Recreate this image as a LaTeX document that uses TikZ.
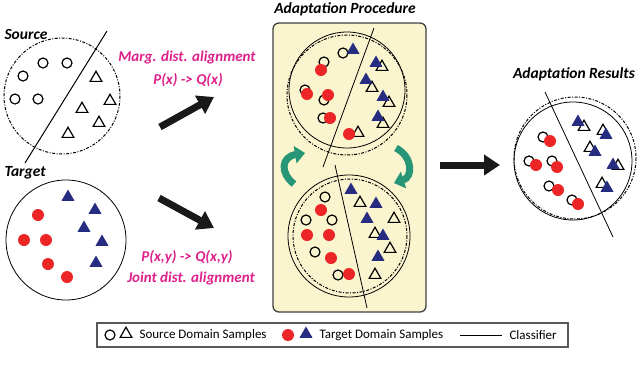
\documentclass[tikz,border=0pt]{standalone}
\usepackage{fontspec}
\setmainfont{Carlito}
\usetikzlibrary{shapes.geometric,arrows.meta}
\definecolor{magtext}{RGB}{222,32,138}
\definecolor{tgtred}{RGB}{236,38,38}
\definecolor{tgtblue}{RGB}{38,44,128}
\definecolor{panelfill}{RGB}{250,245,206}
\definecolor{turngreen}{RGB}{38,150,118}
\tikzset{
  scirc/.style={circle,draw,line width=1.2pt,minimum size=10pt,inner sep=0pt},
  stri/.style={regular polygon,regular polygon sides=3,draw,line width=1.2pt,minimum size=13.5pt,inner sep=0pt},
  tdot/.style={circle,fill=tgtred,minimum size=12pt,inner sep=0pt},
  ttri/.style={regular polygon,regular polygon sides=3,fill=tgtblue,minimum size=15pt,inner sep=0pt},
  dashdot/.style={line width=1pt,dash pattern=on 3pt off 1.5pt on 1pt off 1.5pt},
  title/.style={font=\fontsize{15.5}{18}\selectfont\bfseries\itshape},
  align/.style={font=\fontsize{15}{18}\selectfont\bfseries\itshape,text=magtext},
  legtext/.style={anchor=west,font=\fontsize{13}{15}\selectfont},
  fat/.style={line width=7pt,draw=black!90,-{Triangle[width=20pt,length=16pt]}},
  turnarrow/.style={line width=7pt,draw=turngreen,-{Triangle[width=17pt,length=10pt]}}
}
\begin{document}
\begin{tikzpicture}[x=1pt,y=-1pt]
\useasboundingbox (0,0) rectangle (640,381);
% source domain
\node[title,anchor=west] (srclabel) at (1,34) {Source};
\draw[dashdot] (62,96) circle (58);
\draw[line width=1pt] (107,31) -- (25,163);
\foreach \x/\y [count=\i] in {43/63,67/63,23/76,15/99,38/99}
  \node[scirc] (sc\i) at (\x,\y) {};
\foreach \x/\y [count=\i] in {96/78,110/101,82/109,99/123,68/134}
  \node[stri] (st\i) at (\x,\y) {};
% target domain
\node[title,anchor=west] (tgtlabel) at (1,173) {Target};
\draw[line width=0.8pt] (66,240) circle (60);
\foreach \x/\y [count=\i] in {38/215,24/240,46/240,48/264,67/277}
  \node[tdot] (td\i) at (\x,\y) {};
\foreach \x/\y [count=\i] in {68/197,95/210,84/228,102/242,96/263}
  \node[ttri] (tt\i) at (\x,\y) {};
% alignment labels and arrows
\node[align] (marg) at (187,57) {Marg. dist. alignment};
\node[align] (px) at (188,80) {P(x) -> Q(x)};
\node[align] (pxy) at (187,257) {P(x,y) -> Q(x,y)};
\node[align] (joint) at (191,278) {Joint dist. alignment};
\coordinate (up0) at (160,127);
\coordinate (up1) at (214,97);
\coordinate (dn0) at (159,198);
\coordinate (dn1) at (214,228);
\draw[fat] (up0) -- (up1);
\draw[fat] (dn0) -- (dn1);
% adaptation procedure
\node[title] (proclabel) at (345,9) {Adaptation Procedure};
\draw[fill=panelfill,draw=black!75,line width=1.3pt,rounded corners=6pt] (273,23) rectangle (426,312);
% upper circle
\draw[line width=0.8pt] (347,90) circle (58);
\draw[dashdot] (347,95) circle (60);
\draw[line width=0.8pt] (374,28) -- (323,167);
\foreach \x/\y [count=\i] in {343/53,324/62,305/90,324/100,323/118}
  \node[scirc] (uc\i) at (\x,\y) {};
\foreach \x/\y [count=\i] in {358/133,382/67,372/88,389/103,383/124}
  \node[stri] (ut\i) at (\x,\y) {};
\foreach \x/\y [count=\i] in {321/70,307/94,328/95,330/118,349/134}
  \node[tdot] (ud\i) at (\x,\y) {};
\foreach \x/\y [count=\i] in {353/50,376/63,366/80,383/97,378/117}
  \node[ttri] (ub\i) at (\x,\y) {};
% lower circle
\draw[line width=0.8pt] (349,236) circle (61);
\draw[dashdot] (350,236) circle (57);
\draw[line width=0.8pt] (335,165) -- (367,308);
\foreach \x/\y [count=\i] in {325/197,306/220,332/220,315/252,338/275}
  \node[scirc] (lc\i) at (\x,\y) {};
\foreach \x/\y [count=\i] in {360/203,394/219,375/234,390/249,375/275}
  \node[stri] (lt\i) at (\x,\y) {};
\foreach \x/\y [count=\i] in {321/210,307/235,329/235,331/258,349/274}
  \node[tdot] (ld\i) at (\x,\y) {};
\foreach \x/\y [count=\i] in {351/190,376/204,367/219,383/236,378/257}
  \node[ttri] (lb\i) at (\x,\y) {};
% turning arrows
\coordinate (la0) at (294,184);
\coordinate (la1) at (305,153);
\coordinate (ra0) at (396,148);
\coordinate (ra1) at (394,183);
\draw[turnarrow] (la0) .. controls (280,173) and (281,157) .. (la1);
\draw[turnarrow] (ra0) .. controls (413,157) and (413,177) .. (ra1);
% result arrow
\coordinate (res0) at (440,165);
\coordinate (res1) at (500,165);
\draw[fat] (res0) -- (res1);
% adaptation results
\node[title] (reslabel) at (574,74) {Adaptation Results};
\draw[line width=0.8pt] (573,161) circle (59);
\draw[dashdot] (575,158) circle (61);
\draw[line width=0.8pt] (545,92) -- (613,237);
\foreach \x/\y [count=\i] in {543/137,529/161,552/161,549/186,572/200}
  \node[scirc] (rc\i) at (\x,\y) {};
\foreach \x/\y [count=\i] in {584/127,603/131,590/148,618/166,602/184}
  \node[stri] (rt\i) at (\x,\y) {};
\foreach \x/\y [count=\i] in {550/141,536/165,557/167,558/190,578/204}
  \node[tdot] (rd\i) at (\x,\y) {};
\foreach \x/\y [count=\i] in {578/122,606/135,595/152,613/165,607/188}
  \node[ttri] (rb\i) at (\x,\y) {};
% legend
\draw[draw=black!65,line width=1.2pt] (97,323) rectangle (568,347);
\node[scirc] (legsc) at (110,335) {};
\node[stri] (legst) at (126,334) {};
\node[legtext] (legsrc) at (136,335) {Source Domain Samples};
\node[tdot] (legtd) at (288,335) {};
\node[ttri] (legtt) at (306,334) {};
\node[legtext] (legtgt) at (316,335) {Target Domain Samples};
\coordinate (lgl0) at (460,335);
\coordinate (lgl1) at (502,335);
\draw[line width=0.8pt] (lgl0) -- (lgl1);
\node[legtext] (legcls) at (506,335) {Classifier};
\end{tikzpicture}
\end{document}
